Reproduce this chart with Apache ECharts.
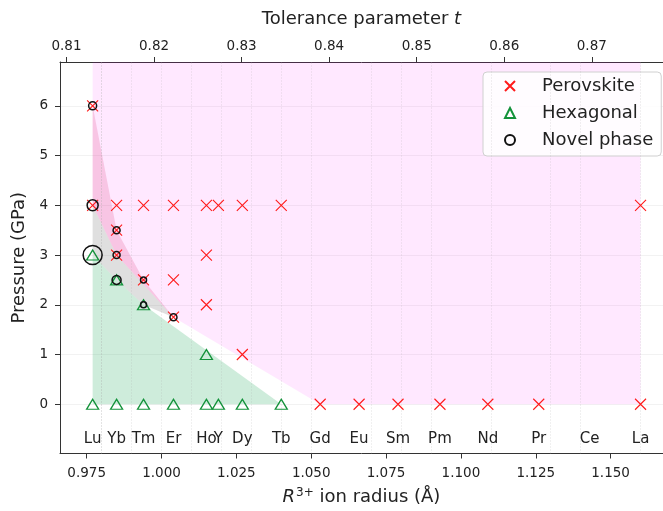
<!DOCTYPE html>
<html>
<head>
<meta charset="utf-8">
<script src="https://cdn.jsdelivr.net/npm/echarts@6/dist/echarts.min.js"></script>
<style>
  html, body { margin: 0; padding: 0; background: #fff; }
  #chart { width: 663px; height: 511px; }
</style>
</head>
<body>
<div id="chart"></div>
<script>
// rare-earth ions and their R3+ radius (Å)
const elements = ["Lu", "Yb", "Tm", "Er", "Ho", "Y", "Dy", "Tb", "Gd", "Eu", "Sm", "Pm", "Nd", "Pr", "Ce", "La"];
const radii = [0.977, 0.985, 0.994, 1.004, 1.015, 1.019, 1.027, 1.040, 1.053, 1.066, 1.079, 1.093, 1.109, 1.126, 1.143, 1.160];

// observed phases: [element, pressure GPa]
const perovskite = [
  ["Lu", 6], ["Lu", 4], ["Yb", 4], ["Yb", 3.5], ["Yb", 3], ["Tm", 4], ["Tm", 2.5],
  ["Er", 4], ["Er", 2.5], ["Er", 1.75], ["Ho", 4], ["Ho", 3], ["Ho", 2], ["Y", 4],
  ["Dy", 4], ["Dy", 1], ["Tb", 4], ["Gd", 0], ["Eu", 0], ["Sm", 0], ["Pm", 0],
  ["Nd", 0], ["Pr", 0], ["La", 0], ["La", 4]
];
const hexagonal = [
  ["Lu", 3], ["Lu", 0], ["Yb", 2.5], ["Yb", 0], ["Tm", 2], ["Tm", 0], ["Er", 0],
  ["Ho", 1], ["Ho", 0], ["Y", 0], ["Dy", 0], ["Tb", 0]
];
const novel = [
  ["Lu", 6], ["Lu", 4], ["Lu", 3], ["Yb", 3.5], ["Yb", 3], ["Yb", 2.5],
  ["Tm", 2.5], ["Tm", 2], ["Er", 1.75]
];

// shaded phase fields (polygon corners)
const Y_MAX = 6.88;
const perovskiteRegion = [["Lu", Y_MAX], ["Lu", 4], ["Yb", 3], ["Er", 1.75], ["Gd", 0], ["La", 0], ["La", Y_MAX]];
const novelOnlyRegion = [["Lu", 4], ["Lu", 3], ["Yb", 2.5], ["Tm", 2], ["Er", 1.75], ["Yb", 3]];
const overlapRegion = [["Lu", 6], ["Lu", 4], ["Yb", 3], ["Er", 1.75], ["Tm", 2.5], ["Yb", 3.5]];
const hexRegion = [["Lu", 3], ["Lu", 0], ["Tb", 0], ["Tm", 2], ["Yb", 2.5]];

// tick labels
const radiusTicks = [0.975, 1.000, 1.025, 1.050, 1.075, 1.100, 1.125, 1.150];
const toleranceTicks = [0.81, 0.82, 0.83, 0.84, 0.85, 0.86, 0.87];
const pressureTicks = [0, 1, 2, 3, 4, 5, 6];

// marker size of the novel-phase circles (style)
const novelMarkerSize = [8, 11, 19, 7, 7, 9, 6, 6, 7];

const X_MIN = 0.9661, X_MAX = 1.1675;
const Y_MIN = -0.99;
const LABEL_Y = -0.7;
// linear map radius -> tolerance factor
const tol = r => 0.81 + (r - 0.975) * 0.3420 + 0.0023;

const rOf = el => radii[elements.indexOf(el)];
const toXY = list => list.map(d => [rOf(d[0]), d[1]]);

const FONT = "DejaVu Sans";
const TXT = "#222";

function region(name, pts, fill, z) {
  return {
    type: "custom",
    name: name,
    silent: true,
    z: z,
    data: [0],
    renderItem: function (params, api) {
      return {
        type: "polygon",
        shape: { points: toXY(pts).map(p => api.coord(p)) },
        style: { fill: fill, stroke: "none" }
      };
    }
  };
}

const chart = echarts.init(document.getElementById("chart"), null, { renderer: "canvas" });

const option = {
  animation: false,
  backgroundColor: "#fff",
  textStyle: { fontFamily: FONT },
  grid: { left: 60, right: 0, top: 62, bottom: 53, containLabel: false },
  legend: {
    data: ["Perovskite", "Hexagonal", "Novel phase"],
    orient: "vertical",
    left: 483,
    top: 72,
    padding: [4, 8, 6, 21],
    itemWidth: 10,
    itemHeight: 10,
    itemGap: 7,
    backgroundColor: "rgba(255,255,255,0.85)",
    borderColor: "#d0d0d0",
    borderWidth: 1,
    borderRadius: 4,
    textStyle: { fontFamily: FONT, fontSize: 18, color: TXT, lineHeight: 20, padding: [0, 0, 0, 22] }
  },
  xAxis: [
    {
      type: "value",
      position: "bottom",
      min: X_MIN,
      max: X_MAX,
      name: "{i|R}{s|3+} ion radius (Å)",
      nameLocation: "middle",
      nameGap: 33,
      nameTextStyle: {
        fontFamily: FONT, fontSize: 18, color: TXT,
        rich: {
          i: { fontFamily: FONT, fontSize: 18, fontStyle: "italic", color: TXT },
          s: { fontFamily: FONT, fontSize: 12, color: TXT, verticalAlign: "bottom", padding: [0, 0, 9, 1] }
        }
      },
      axisLine: { onZero: false, lineStyle: { color: "#333", width: 1 } },
      axisTick: { inside: false, length: 5, lineStyle: { color: "#333" }, customValues: radiusTicks },
      axisLabel: {
        margin: 13, fontSize: 13.5, color: TXT, fontFamily: FONT,
        customValues: radiusTicks,
        formatter: v => v.toFixed(3)
      },
      splitLine: { show: false }
    },
    {
      type: "value",
      position: "top",
      min: tol(X_MIN),
      max: tol(X_MAX),
      name: "Tolerance parameter {i|t}",
      nameLocation: "middle",
      nameGap: 34,
      nameTextStyle: {
        fontFamily: FONT, fontSize: 18, color: TXT,
        rich: { i: { fontFamily: FONT, fontSize: 18, fontStyle: "italic", color: TXT } }
      },
      axisLine: { onZero: false, lineStyle: { color: "#333", width: 1 } },
      axisTick: { inside: false, length: 5, lineStyle: { color: "#333" }, customValues: toleranceTicks },
      axisLabel: {
        margin: 9, fontSize: 13.5, color: TXT, fontFamily: FONT,
        customValues: toleranceTicks,
        formatter: v => v.toFixed(2)
      },
      splitLine: { show: false }
    }
  ],
  yAxis: {
    type: "value",
    min: Y_MIN,
    max: Y_MAX,
    name: "Pressure (GPa)",
    nameLocation: "middle",
    nameGap: 28,
    nameTextStyle: { fontFamily: FONT, fontSize: 18, color: TXT },
    axisLine: { show: true, onZero: false, lineStyle: { color: "#333", width: 1 } },
    axisTick: { show: true, inside: false, length: 5, lineStyle: { color: "#333" }, customValues: pressureTicks },
    axisLabel: { margin: 12, fontSize: 13.5, color: TXT, fontFamily: FONT, customValues: pressureTicks },
    splitLine: { show: true, lineStyle: { color: "rgba(0,0,0,0.05)", width: 1 } }
  },
  series: [
    // element guide lines
    {
      type: "scatter",
      name: "guides",
      data: [],
      silent: true,
      z: 1,
      markLine: {
        symbol: "none",
        silent: true,
        animation: false,
        label: { show: false },
        lineStyle: { color: "rgba(170,170,170,0.35)", width: 1, type: [1, 2] },
        data: radii.map(r => ({ xAxis: r }))
      }
    },
    region("perovskite field", perovskiteRegion, "rgba(255,0,255,0.09)", 2),
    region("hexagonal field", hexRegion, "rgba(60,179,113,0.25)", 2),
    region("novel field", novelOnlyRegion, "rgba(128,128,128,0.25)", 3),
    region("overlap field", overlapRegion, "rgba(220,60,120,0.2)", 3),
    // element names inside the plot
    {
      type: "custom",
      name: "labels",
      silent: true,
      z: 5,
      data: radii.map((r, i) => [r, LABEL_Y, elements[i]]),
      renderItem: function (params, api) {
        const p = api.coord([api.value(0), api.value(1)]);
        return {
          type: "text",
          x: p[0],
          y: p[1],
          style: {
            text: elements[params.dataIndex],
            fill: TXT,
            font: "15px " + FONT,
            align: "center",
            verticalAlign: "middle"
          }
        };
      }
    },
    {
      type: "scatter",
      name: "Perovskite",
      z: 6,
      symbol: "path://M0,0L10,10M10,0L0,10",
      symbolSize: 11,
      itemStyle: { color: "rgba(0,0,0,0)", borderColor: "#ff1a1a", borderWidth: 1.1, opacity: 1 },
      data: toXY(perovskite)
    },
    {
      type: "scatter",
      name: "Hexagonal",
      z: 7,
      symbol: "triangle",
      symbolSize: [12, 10],
      itemStyle: { color: "rgba(0,0,0,0)", borderColor: "#13923a", borderWidth: 1.3, opacity: 1 },
      data: toXY(hexagonal)
    },
    {
      type: "scatter",
      name: "Novel phase",
      z: 8,
      symbol: "circle",
      symbolSize: (v, params) => novelMarkerSize[params.dataIndex],
      itemStyle: { color: "rgba(0,0,0,0)", borderColor: "#111", borderWidth: 1.5, opacity: 1 },
      data: toXY(novel)
    }
  ]
};

chart.setOption(option);
</script>
</body>
</html>
